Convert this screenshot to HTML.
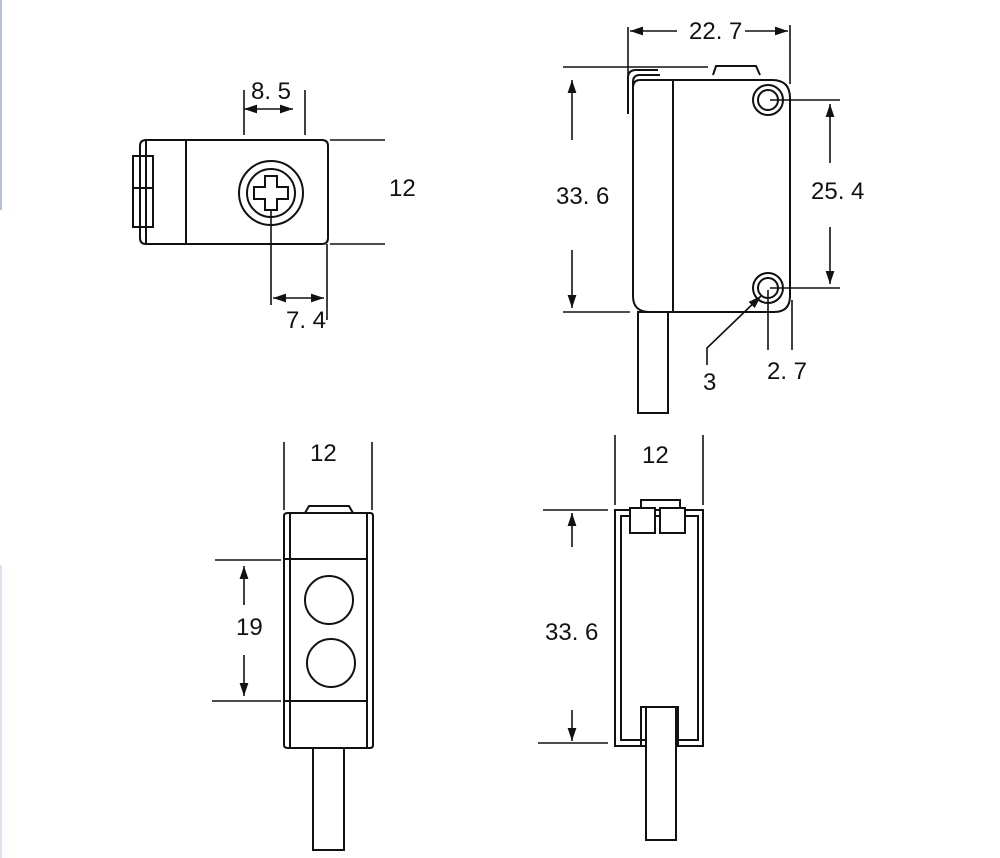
<!DOCTYPE html>
<html><head><meta charset="utf-8"><style>
html,body{margin:0;padding:0;background:#fff}
svg{display:block}
text{font-family:"Liberation Sans",sans-serif;font-size:24px;fill:#111}
</style></head><body>
<svg width="1000" height="858" viewBox="0 0 1000 858" xmlns="http://www.w3.org/2000/svg">
<defs>
<marker id="a" viewBox="0 0 10 10" refX="10" refY="5" markerWidth="13" markerHeight="11" orient="auto-start-reverse" markerUnits="userSpaceOnUse" preserveAspectRatio="none"><path d="M0,1 L10,5 L0,9 z" fill="#111"/></marker>
</defs>
<rect x="0" y="0" width="2" height="210" fill="#b8bfd8"/>
<rect x="0" y="565" width="2" height="293" fill="#dde2ee"/>
<g stroke="#111" stroke-width="2" fill="none">
<!-- top-left view -->
<path d="M146,140 H322 Q328,140 328,146 V238 Q328,244 322,244 H146 Q140,244 140,238 V146 Q140,140 146,140 Z"/>
<line x1="146" y1="140" x2="146" y2="244"/>
<line x1="186" y1="140" x2="186" y2="244"/>
<rect x="133" y="156" width="20" height="32"/>
<rect x="133" y="188" width="20" height="39"/>
<circle cx="271" cy="193" r="32"/>
<circle cx="271" cy="193" r="24"/>
<path d="M265,176 h12 v11 h11 v12 h-11 v11 h-12 v-11 h-11 v-12 h11 z"/>
<line x1="244" y1="90" x2="244" y2="135" stroke-width="1.6"/>
<line x1="305" y1="90" x2="305" y2="135" stroke-width="1.6"/>
<line x1="244" y1="109" x2="293" y2="109" stroke-width="1.6" marker-start="url(#a)" marker-end="url(#a)"/>
<line x1="330" y1="140" x2="385" y2="140" stroke-width="1.6"/>
<line x1="330" y1="244" x2="385" y2="244" stroke-width="1.6"/>
<line x1="271" y1="210" x2="271" y2="305" stroke-width="1.6"/>
<line x1="327" y1="244" x2="327" y2="320" stroke-width="1.6"/>
<line x1="273" y1="298" x2="324" y2="298" stroke-width="1.6" marker-start="url(#a)" marker-end="url(#a)"/>
<!-- top-right view -->
<path d="M628,114 V78 Q628,70 636,70 H658"/>
<path d="M633,116 V82 Q633,75 640,75 H660"/>
<path d="M713,75 L716,66 H756 L760,75"/>
<path d="M640,80 H772 Q790,80 790,98 V296 Q790,312 774,312 H650 Q633,312 633,296 V88 Q633,80 640,80 Z"/>
<line x1="673" y1="80" x2="673" y2="312"/>
<circle cx="768" cy="100" r="15"/><circle cx="768" cy="100" r="10"/>
<circle cx="768" cy="288" r="15"/><circle cx="768" cy="288" r="10"/>
<line x1="628" y1="27" x2="628" y2="78" stroke-width="1.6"/>
<line x1="790" y1="25" x2="790" y2="84" stroke-width="1.6"/>
<line x1="677" y1="31" x2="630" y2="31" stroke-width="1.6" marker-end="url(#a)"/>
<line x1="745" y1="31" x2="788" y2="31" stroke-width="1.6" marker-end="url(#a)"/>
<line x1="563" y1="67" x2="708" y2="67" stroke-width="1.6"/>
<line x1="563" y1="312" x2="630" y2="312" stroke-width="1.6"/>
<line x1="572" y1="140" x2="572" y2="80" stroke-width="1.6" marker-end="url(#a)"/>
<line x1="572" y1="250" x2="572" y2="308" stroke-width="1.6" marker-end="url(#a)"/>
<line x1="770" y1="100" x2="840" y2="100" stroke-width="1.6"/>
<line x1="770" y1="288" x2="840" y2="288" stroke-width="1.6"/>
<line x1="830" y1="163" x2="830" y2="104" stroke-width="1.6" marker-end="url(#a)"/>
<line x1="830" y1="227" x2="830" y2="284" stroke-width="1.6" marker-end="url(#a)"/>
<rect x="638" y="312" width="30" height="101"/>
<line x1="768" y1="290" x2="768" y2="350" stroke-width="1.6"/>
<line x1="792" y1="300" x2="792" y2="350" stroke-width="1.6"/>
<path d="M707,365 V348 L761,296" stroke-width="1.6" marker-end="url(#a)"/>
<!-- bottom-left view -->
<path d="M288,513 H370 Q373,513 373,516 V745 Q373,748 370,748 H288 Q284,748 284,745 V516 Q284,513 288,513 Z"/>
<line x1="290" y1="513" x2="290" y2="748"/>
<line x1="367" y1="513" x2="367" y2="748"/>
<line x1="284" y1="559" x2="367" y2="559"/>
<line x1="284" y1="701" x2="367" y2="701"/>
<path d="M305,513 L309,506 H349 L353,513"/>
<circle cx="329" cy="600" r="24"/>
<circle cx="331" cy="663" r="24"/>
<rect x="313" y="748" width="31" height="102"/>
<line x1="284" y1="442" x2="284" y2="510" stroke-width="1.6"/>
<line x1="372" y1="442" x2="372" y2="510" stroke-width="1.6"/>
<line x1="215" y1="560" x2="281" y2="560" stroke-width="1.6"/>
<line x1="212" y1="701" x2="281" y2="701" stroke-width="1.6"/>
<line x1="244" y1="605" x2="244" y2="566" stroke-width="1.6" marker-end="url(#a)"/>
<line x1="244" y1="655" x2="244" y2="696" stroke-width="1.6" marker-end="url(#a)"/>
<!-- bottom-right view -->
<rect x="615" y="510" width="88" height="236"/>
<rect x="621" y="516" width="77" height="224"/>
<rect x="630" y="508" width="25" height="25" fill="#fff"/>
<rect x="660" y="508" width="25" height="25" fill="#fff"/>
<path d="M641,508 V500 H680 V508"/>
<rect x="641" y="707" width="37" height="39"/>
<rect x="646" y="707" width="30" height="133" fill="#fff"/>
<line x1="615" y1="435" x2="615" y2="505" stroke-width="1.6"/>
<line x1="703" y1="435" x2="703" y2="505" stroke-width="1.6"/>
<line x1="543" y1="510" x2="608" y2="510" stroke-width="1.6"/>
<line x1="538" y1="743" x2="608" y2="743" stroke-width="1.6"/>
<line x1="572" y1="547" x2="572" y2="513" stroke-width="1.6" marker-end="url(#a)"/>
<line x1="572" y1="710" x2="572" y2="741" stroke-width="1.6" marker-end="url(#a)"/>
</g>
<text x="251" y="99">8. 5</text>
<text x="389" y="196">12</text>
<text x="286" y="328">7. 4</text>
<text x="689" y="39">22. 7</text>
<text x="556" y="204">33. 6</text>
<text x="811" y="199">25. 4</text>
<text x="767" y="379">2. 7</text>
<text x="703" y="390">3</text>
<text x="310" y="461">12</text>
<text x="236" y="635">19</text>
<text x="642" y="463">12</text>
<text x="545" y="640">33. 6</text>
</svg>
</body></html>
